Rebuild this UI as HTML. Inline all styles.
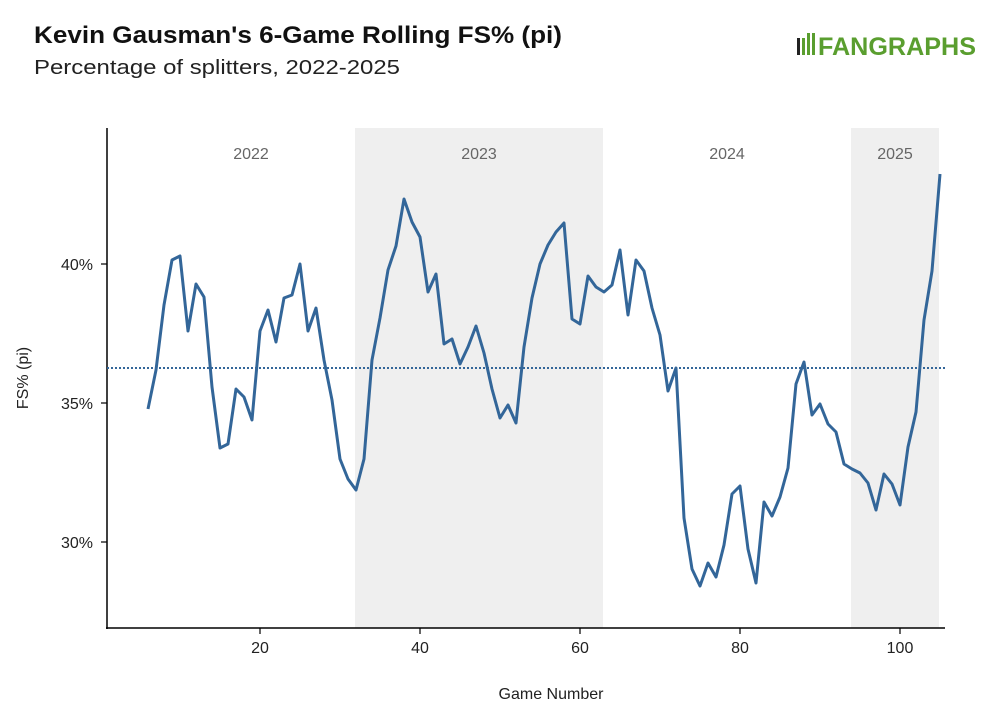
<!DOCTYPE html>
<html><head><style>
body{margin:0;background:#fff;}
svg{display:block;font-family:"Liberation Sans",sans-serif;}
</style></head><body>
<svg width="994" height="724" viewBox="0 0 994 724">
<rect width="994" height="724" fill="#fff"/>
<text x="34" y="43" font-size="24" font-weight="bold" fill="#111" textLength="528" lengthAdjust="spacingAndGlyphs">Kevin Gausman's 6-Game Rolling FS% (pi)</text>
<text x="34" y="74" font-size="20" fill="#222" textLength="366" lengthAdjust="spacingAndGlyphs">Percentage of splitters, 2022-2025</text>
<g>
<rect x="797" y="38" width="3" height="17" fill="#222"/>
<rect x="802" y="38" width="3" height="17" fill="#5a9e2f"/>
<rect x="807" y="33" width="3" height="22" fill="#5a9e2f"/>
<rect x="812" y="33" width="3" height="22" fill="#5a9e2f"/>
<text x="818" y="55" font-size="25" font-weight="bold" fill="#5a9e2f" textLength="158" lengthAdjust="spacingAndGlyphs">FANGRAPHS</text>
</g>
<rect x="355" y="128" width="248" height="500" fill="#efefef"/>
<rect x="851" y="128" width="88" height="500" fill="#efefef"/>
<g font-size="16" fill="#666" text-anchor="middle">
<text x="251" y="159">2022</text><text x="479" y="159">2023</text>
<text x="727" y="159">2024</text><text x="895" y="159">2025</text>
</g>
<line x1="107" y1="128" x2="107" y2="629" stroke="#000" stroke-width="1.5"/>
<line x1="106" y1="628" x2="945" y2="628" stroke="#000" stroke-width="1.5"/>
<g stroke="#000" stroke-width="1.2">
<line x1="101" y1="264" x2="107" y2="264"/><line x1="101" y1="403" x2="107" y2="403"/><line x1="101" y1="542" x2="107" y2="542"/>
<line x1="260" y1="628" x2="260" y2="634"/><line x1="420" y1="628" x2="420" y2="634"/><line x1="580" y1="628" x2="580" y2="634"/><line x1="740" y1="628" x2="740" y2="634"/><line x1="900" y1="628" x2="900" y2="634"/>
</g>
<g font-size="16" fill="#222" text-anchor="end">
<text x="93" y="270">40%</text><text x="93" y="409">35%</text><text x="93" y="548">30%</text>
</g>
<g font-size="16" fill="#222" text-anchor="middle">
<text x="260" y="653">20</text><text x="420" y="653">40</text><text x="580" y="653">60</text><text x="740" y="653">80</text><text x="900" y="653">100</text>
</g>
<text x="551" y="699" font-size="16" fill="#222" text-anchor="middle">Game Number</text>
<text transform="translate(28,378) rotate(-90)" font-size="16" fill="#222" text-anchor="middle">FS% (pi)</text>
<line x1="107" y1="368" x2="945" y2="368" stroke="#336699" stroke-width="2" stroke-dasharray="2,2"/>
<polyline fill="none" stroke="#336699" stroke-width="3" stroke-linejoin="round" points="148,409 156,370 164,305 172,260 180,256 188,331 196,284 204,297 212,387 220,448 228,444 236,389 244,397 252,420 260,331 268,310 276,342 284,298 292,295 300,264 308,331 316,308 324,360 332,400 340,459 348,479 356,490 364,459 372,360 380,318 388,270 396,246 404,199 412,222 420,237 428,292 436,274 444,344 452,339 460,364 468,347 476,326 484,353 492,389 500,418 508,405 516,423 524,347 532,298 540,264 548,245 556,232 564,223 572,319 580,324 588,276 596,287 604,292 612,285 620,250 628,315 636,260 644,271 652,308 660,335 668,391 676,368 684,518 692,569 700,586 708,563 716,577 724,545 732,494 740,486 748,549 756,583 764,502 772,516 780,497 788,468 796,384 804,362 812,415 820,404 828,424 836,432 844,464 852,469 860,473 868,483 876,510 884,474 892,484 900,505 908,447 916,412 924,320 932,271 940,174"/>
</svg>
</body></html>
